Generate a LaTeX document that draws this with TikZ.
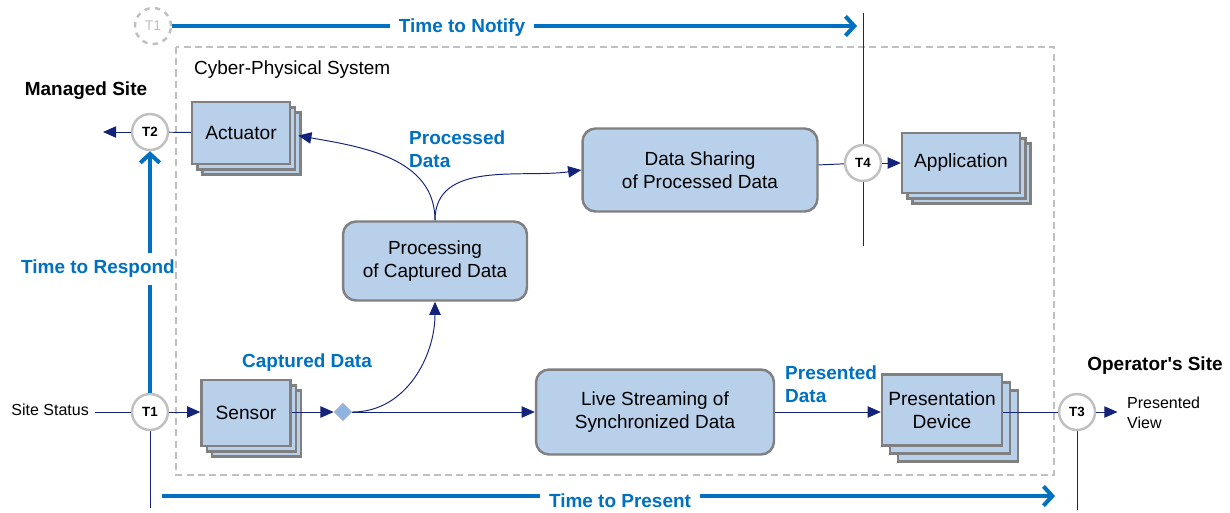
\documentclass[tikz,border=0pt]{standalone}
\usepackage{fontspec}
\setmainfont{Liberation Sans}
\usetikzlibrary{shapes.geometric,shadows,arrows.meta}

\begin{document}
\begin{tikzpicture}[x=0.02cm,y=-0.02cm,
  device/.style={draw=boxline,fill=boxfill,line width=1.4pt,align=center,
    font=\fontsize{10.9}{13}\selectfont,
    double copy shadow={shadow xshift=#1,shadow yshift=-#1}},
  device/.default=3pt,
  process/.style={draw=boxline,fill=boxfill,line width=1.4pt,rounded corners=0.26cm,
    align=center,font=\fontsize{10.8}{13}\selectfont},
  tcirc/.style={circle,draw=tgray,fill=white,line width=1.4pt,minimum size=0.72cm,
    inner sep=0pt,font=\fontsize{7.6}{8}\selectfont\bfseries},
  tlab/.style={text=tblue,align=left,font=\fontsize{10.8}{13}\selectfont\bfseries},
  plain/.style={align=left,font=\fontsize{9.1}{11.4}\selectfont},
  dline/.style={draw=navy,line width=0.55pt},
  darr/.style={dline,-{Triangle[length=7.5pt,width=6.5pt]}},
  tarr/.style={draw=tblue,line width=2.3pt,-{Straight Barb[length=5pt,width=11pt]}}]
\definecolor{boxfill}{HTML}{B9D0EB}
\definecolor{boxline}{HTML}{808080}
\definecolor{tgray}{HTML}{C0C0C0}
\definecolor{tblue}{HTML}{0070C0}
\definecolor{navy}{HTML}{14237A}
\definecolor{diafill}{HTML}{8EB4E3}
\useasboundingbox (0,0) rectangle (1230,512);

\draw[tgray,line width=1.1pt,dash pattern=on 4pt off 2.4pt] (176,47) rectangle (1054,475);
\node[anchor=west,font=\fontsize{10.8}{13}\selectfont] (cps) at (188,70) {Cyber-Physical System};

\node[font=\fontsize{10.8}{13}\selectfont\bfseries] (msite) at (86,91) {Managed Site};
\node[font=\fontsize{10.8}{13}\selectfont\bfseries] (osite) at (1155,366) {Operator\textquotesingle s Site};
\node[plain,anchor=east] (status) at (95,410) {Site Status};
\node[plain,anchor=west] (pview) at (1121,413) {Presented\\View};

\node[device,minimum width=1.96cm,minimum height=1.24cm] (act) at (241,133) {Actuator};
\node[device,minimum width=1.78cm,minimum height=1.32cm] (sensor) at (246,413) {Sensor};
\node[device,minimum width=2.36cm,minimum height=1.2cm] (app) at (961,163) {Application};
\node[device=4.5pt,minimum width=2.4cm,minimum height=1.42cm] (pres) at (942,410) {Presentation\\Device};

\node[process,minimum width=3.68cm,minimum height=1.58cm] (proc) at (435,261) {Processing\\of Captured Data};
\node[process,minimum width=4.7cm,minimum height=1.66cm] (share) at (700,170) {Data Sharing\\of Processed Data};
\node[process,minimum width=4.76cm,minimum height=1.7cm] (live) at (655,412) {Live Streaming of\\Synchronized Data};
\node[diamond,aspect=1,fill=diafill,draw=tgray,line width=0.4pt,minimum size=0.36cm,inner sep=0pt] (dia) at (343,412) {};

\node[tlab,anchor=west] (proclab) at (403,149) {Processed\\Data};
\node[tlab] (caplab) at (307,363) {Captured Data};
\node[tlab,anchor=west] (preslab) at (779,384) {Presented\\Data};

\coordinate (t1low) at (150,508);
\coordinate (t3low) at (1077,510);
\coordinate (t4top) at (863,13);
\coordinate (t4low) at (863,246);
\coordinate (mleft) at (103,132);
\coordinate (notifyend) at (857,26);
\coordinate (presstart) at (162,496);
\coordinate (presend) at (1055,496);

\draw[dline] (150,412) -- (t1low);
\draw[dline] (863,163) -- (t4top);
\draw[dline] (863,163) -- (t4low);
\draw[dline] (1077,412) -- (t3low);

\foreach \nm/\x/\y in {1/150/412,2/150/132,3/1077/412,4/863/163}
  {\node[tcirc] (t\nm) at (\x,\y) {T\nm};}
\node[tcirc,dashed,text=tgray,font=\fontsize{8}{9}\selectfont] (tn) at (153,26) {T1};

\draw[dline] (status.east |- t1) -- (t1);
\draw[darr] (t1) -- (sensor.west |- t1);
\draw[darr] (sensor.east |- t1) -- (dia);
\draw[darr] (dia) -- (live);
\draw[darr] (dia.east) to[out=0,in=-90] (proc.south);
\draw[darr] (proc.north) to[out=90,in=-10] ([xshift=4pt,yshift=-1.5pt]act.east);
\draw[darr] (proc.north) to[out=90,in=188] (share.west);
\draw[dline] (share) -- (t4);
\draw[darr] (t4) -- (app);
\draw[dline] (act) -- (t2);
\draw[darr] (t2) -- (mleft);
\draw[darr] (live) -- (live -| pres.west);
\draw[dline] (pres.east |- t3) -- (t3);
\draw[darr,shorten >=2pt] (t3) -- (t3 -| pview.west);

\draw[tarr] (t1) -- (t2);
\draw[tarr] (tn) -- (notifyend);
\draw[tarr] (presstart) -- (presend);
\node[tlab,fill=white,inner xsep=5pt] (notify) at (462,28) {Time to Notify};
\node[tlab,fill=white,inner xsep=0pt,inner ysep=4pt] (respond) at (98,269) {Time to Respond};
\node[tlab,fill=white,inner xsep=5pt] (present) at (620,501) {Time to Present};
\end{tikzpicture}
\end{document}
